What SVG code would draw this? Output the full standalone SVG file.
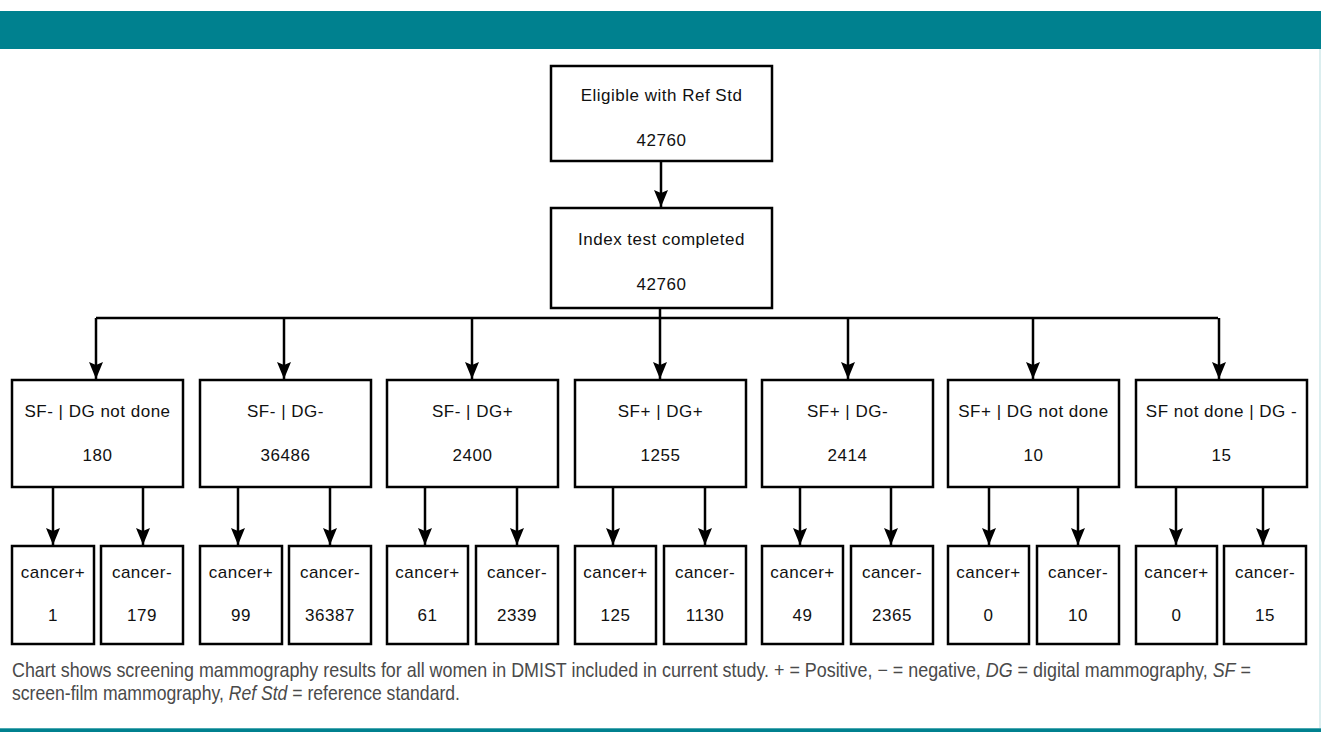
<svg xmlns="http://www.w3.org/2000/svg" width="1321" height="732" viewBox="0 0 1321 732">
  <defs>
    <marker id="ah" markerWidth="17" markerHeight="14" refX="17" refY="7" orient="auto" markerUnits="userSpaceOnUse" viewBox="0 0 17 14">
      <path d="M0,0 L17,7 L0,14 L3,7 Z" fill="#000"/>
    </marker>
  </defs>
  <style>
    .box { fill: #fff; stroke: #000; stroke-width: 2.5; }
    .t { font-family: "Liberation Sans", Arial, sans-serif; font-size: 17px; letter-spacing: 0.5px; fill: #111; text-anchor: middle; }
    .c { fill: none; stroke: #000; stroke-width: 2.5; }
    .a { fill: none; stroke: #000; stroke-width: 2.5; marker-end: url(#ah); }
    .cap { font-family: "Liberation Sans", Arial, sans-serif; font-size: 20px; fill: #4a4a4a; }
  </style>
  <rect x="0" y="0" width="1321" height="732" fill="#fff"/>
  <rect x="0" y="11" width="1321" height="38" fill="#00818f"/>
  <line x1="1320" y1="49" x2="1320" y2="728" stroke="#cfe8ea" stroke-width="1.5"/>
  <rect x="0" y="728" width="1321" height="4" fill="#00818f"/>
  <rect x="0" y="728" width="1321" height="1" fill="#4aa8b1"/>

  <g id="connectors">
    <line class="a" x1="661" y1="161" x2="661" y2="207"/>
    <line class="c" x1="660" y1="308" x2="660" y2="318"/>
    <line class="c" x1="96" y1="318" x2="1218" y2="318"/>
    <line class="a" x1="96" y1="318" x2="96" y2="379"/>
    <line class="a" x1="284" y1="318" x2="284" y2="379"/>
    <line class="a" x1="472" y1="318" x2="472" y2="379"/>
    <line class="a" x1="660" y1="318" x2="660" y2="379"/>
    <line class="a" x1="848" y1="318" x2="848" y2="379"/>
    <line class="a" x1="1033" y1="318" x2="1033" y2="379"/>
    <line class="a" x1="1219" y1="318" x2="1219" y2="379"/>

    <line class="a" x1="53" y1="487" x2="53" y2="545"/>
    <line class="a" x1="143" y1="487" x2="143" y2="545"/>
    <line class="a" x1="238" y1="487" x2="238" y2="545"/>
    <line class="a" x1="330" y1="487" x2="330" y2="545"/>
    <line class="a" x1="425" y1="487" x2="425" y2="545"/>
    <line class="a" x1="517" y1="487" x2="517" y2="545"/>
    <line class="a" x1="613" y1="487" x2="613" y2="545"/>
    <line class="a" x1="705" y1="487" x2="705" y2="545"/>
    <line class="a" x1="800" y1="487" x2="800" y2="545"/>
    <line class="a" x1="891" y1="487" x2="891" y2="545"/>
    <line class="a" x1="989" y1="487" x2="989" y2="545"/>
    <line class="a" x1="1078" y1="487" x2="1078" y2="545"/>
    <line class="a" x1="1176" y1="487" x2="1176" y2="545"/>
    <line class="a" x1="1263" y1="487" x2="1263" y2="545"/>
  </g>

  <g id="n-eligible">
    <rect class="box" x="551" y="66" width="221" height="95"/>
    <text class="t" x="661.5" y="101">Eligible with Ref Std</text>
    <text class="t" x="661.5" y="146">42760</text>
  </g>
  <g id="n-index">
    <rect class="box" x="551" y="208" width="221" height="100"/>
    <text class="t" x="661.5" y="245">Index test completed</text>
    <text class="t" x="661.5" y="290">42760</text>
  </g>

  <g id="n-g1">
    <rect class="box" x="12" y="380" width="171" height="107"/>
    <text class="t" x="97.5" y="417">SF- | DG not done</text>
    <text class="t" x="97.5" y="461">180</text>
  </g>
  <g id="n-g2">
    <rect class="box" x="200" y="380" width="171" height="107"/>
    <text class="t" x="285.5" y="417">SF- | DG-</text>
    <text class="t" x="285.5" y="461">36486</text>
  </g>
  <g id="n-g3">
    <rect class="box" x="387" y="380" width="171" height="107"/>
    <text class="t" x="472.5" y="417">SF- | DG+</text>
    <text class="t" x="472.5" y="461">2400</text>
  </g>
  <g id="n-g4">
    <rect class="box" x="575" y="380" width="171" height="107"/>
    <text class="t" x="660.5" y="417">SF+ | DG+</text>
    <text class="t" x="660.5" y="461">1255</text>
  </g>
  <g id="n-g5">
    <rect class="box" x="762" y="380" width="171" height="107"/>
    <text class="t" x="847.5" y="417">SF+ | DG-</text>
    <text class="t" x="847.5" y="461">2414</text>
  </g>
  <g id="n-g6">
    <rect class="box" x="948" y="380" width="171" height="107"/>
    <text class="t" x="1033.5" y="417">SF+ | DG not done</text>
    <text class="t" x="1033.5" y="461">10</text>
  </g>
  <g id="n-g7">
    <rect class="box" x="1136" y="380" width="171" height="107"/>
    <text class="t" x="1221.5" y="417">SF not done | DG -</text>
    <text class="t" x="1221.5" y="461">15</text>
  </g>

  <g id="n-c1p"><rect class="box" x="12" y="546" width="82" height="98"/><text class="t" x="53" y="578">cancer+</text><text class="t" x="53" y="621">1</text></g>
  <g id="n-c1n"><rect class="box" x="101" y="546" width="82" height="98"/><text class="t" x="142" y="578">cancer-</text><text class="t" x="142" y="621">179</text></g>
  <g id="n-c2p"><rect class="box" x="200" y="546" width="82" height="98"/><text class="t" x="241" y="578">cancer+</text><text class="t" x="241" y="621">99</text></g>
  <g id="n-c2n"><rect class="box" x="289" y="546" width="82" height="98"/><text class="t" x="330" y="578">cancer-</text><text class="t" x="330" y="621">36387</text></g>
  <g id="n-c3p"><rect class="box" x="387" y="546" width="81" height="98"/><text class="t" x="427.5" y="578">cancer+</text><text class="t" x="427.5" y="621">61</text></g>
  <g id="n-c3n"><rect class="box" x="476" y="546" width="82" height="98"/><text class="t" x="517" y="578">cancer-</text><text class="t" x="517" y="621">2339</text></g>
  <g id="n-c4p"><rect class="box" x="575" y="546" width="81" height="98"/><text class="t" x="615.5" y="578">cancer+</text><text class="t" x="615.5" y="621">125</text></g>
  <g id="n-c4n"><rect class="box" x="664" y="546" width="82" height="98"/><text class="t" x="705" y="578">cancer-</text><text class="t" x="705" y="621">1130</text></g>
  <g id="n-c5p"><rect class="box" x="762" y="546" width="81" height="98"/><text class="t" x="802.5" y="578">cancer+</text><text class="t" x="802.5" y="621">49</text></g>
  <g id="n-c5n"><rect class="box" x="851" y="546" width="82" height="98"/><text class="t" x="892" y="578">cancer-</text><text class="t" x="892" y="621">2365</text></g>
  <g id="n-c6p"><rect class="box" x="948" y="546" width="81" height="98"/><text class="t" x="988.5" y="578">cancer+</text><text class="t" x="988.5" y="621">0</text></g>
  <g id="n-c6n"><rect class="box" x="1037" y="546" width="82" height="98"/><text class="t" x="1078" y="578">cancer-</text><text class="t" x="1078" y="621">10</text></g>
  <g id="n-c7p"><rect class="box" x="1136" y="546" width="81" height="98"/><text class="t" x="1176.5" y="578">cancer+</text><text class="t" x="1176.5" y="621">0</text></g>
  <g id="n-c7n"><rect class="box" x="1224" y="546" width="82" height="98"/><text class="t" x="1265" y="578">cancer-</text><text class="t" x="1265" y="621">15</text></g>

  <g id="caption">
    <text class="cap" x="0" y="677" transform="translate(12,0) scale(0.895,1)">Chart shows screening mammography results for all women in DMIST included in current study. + = Positive, − = negative, <tspan font-style="italic">DG</tspan> = digital mammography, <tspan font-style="italic">SF</tspan> =</text>
    <text class="cap" x="0" y="700" transform="translate(12,0) scale(0.88,1)">screen-film mammography, <tspan font-style="italic">Ref Std</tspan> = reference standard.</text>
  </g>
</svg>
